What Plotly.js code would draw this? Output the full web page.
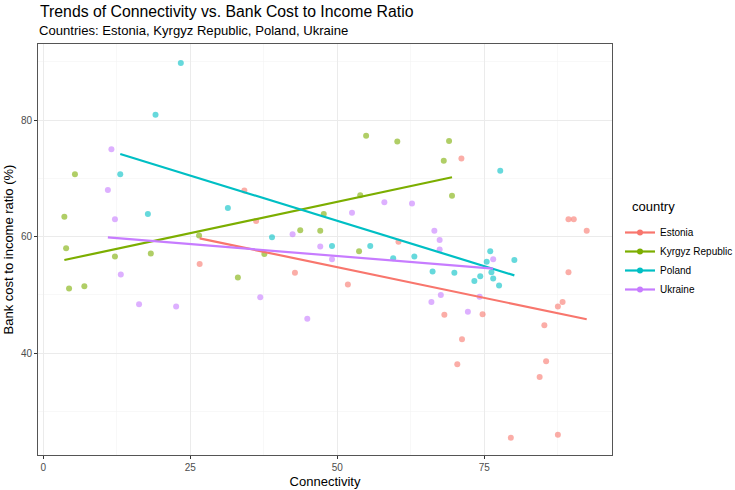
<!DOCTYPE html>
<html><head><meta charset="utf-8">
<script src="https://cdn.plot.ly/plotly-3.0.1.min.js"></script>
<style>body{margin:0;background:#fff}#chart{width:735px;height:490px}</style>
</head><body><div id="chart"></div>
<script>
const countries = ["Estonia", "Kyrgyz Republic", "Poland", "Ukraine"];
const colors = ["#F8766D", "#7CAE00", "#00BFC4", "#C77CFF"];

const estoniaX = [26.6, 34.2, 36.2, 42.8, 51.8, 60.4, 71.1, 89.3, 90.2, 92.4, 89.3, 88.3, 87.5, 68.2, 74.7, 85.2, 71.2, 85.5, 70.4, 84.4, 79.5, 87.5];
const estoniaY = [55.3, 67.9, 62.7, 53.8, 51.8, 59.1, 73.4, 63.0, 63.0, 61.0, 53.9, 48.8, 48.0, 46.6, 46.7, 44.8, 42.4, 38.6, 38.1, 35.9, 25.5, 26.0];

const kyrgyzX = [5.4, 3.6, 26.5, 3.9, 12.2, 18.3, 4.4, 7.0, 54.9, 60.2, 53.9, 47.7, 43.7, 47.1, 53.7, 37.6, 33.1, 69.0, 68.1, 69.5];
const kyrgyzY = [70.7, 63.4, 60.2, 58.0, 56.6, 57.1, 51.1, 51.5, 77.3, 76.3, 67.1, 63.9, 61.1, 61.0, 57.5, 57.0, 53.0, 76.4, 73.0, 67.0];

const polandX = [23.4, 19.1, 13.1, 17.8, 31.4, 38.9, 49.1, 55.6, 59.5, 63.1, 77.7, 76.0, 75.4, 80.1, 66.2, 69.9, 76.2, 74.3, 73.3, 76.5, 77.5];
const polandY = [89.8, 80.9, 70.7, 63.9, 64.9, 59.9, 58.4, 58.4, 56.3, 56.6, 71.3, 57.5, 55.7, 56.0, 54.0, 53.8, 53.9, 53.2, 52.4, 52.8, 51.6];

const ukraineX = [11.6, 11.0, 12.2, 13.2, 16.3, 22.6, 58.0, 62.7, 52.5, 42.4, 47.1, 49.1, 36.9, 44.9, 66.5, 67.4, 67.4, 76.5, 67.6, 66.0, 74.2, 72.2];
const ukraineY = [75.0, 68.0, 63.0, 53.5, 48.4, 48.0, 65.9, 65.7, 64.1, 60.4, 58.3, 56.1, 49.6, 45.9, 61.0, 59.4, 57.8, 56.1, 50.0, 48.8, 49.7, 47.1];

const xs = [estoniaX, kyrgyzX, polandX, ukraineX];
const ys = [estoniaY, kyrgyzY, polandY, ukraineY];

function fit(x, y) {
  const n = x.length;
  const mx = x.reduce((a, b) => a + b, 0) / n;
  const my = y.reduce((a, b) => a + b, 0) / n;
  let sxy = 0, sxx = 0;
  for (let i = 0; i < n; i++) { sxy += (x[i] - mx) * (y[i] - my); sxx += (x[i] - mx) ** 2; }
  const b = sxy / sxx, a = my - b * mx;
  const x0 = Math.min(...x), x1 = Math.max(...x);
  return { x: [x0, x1], y: [a + b * x0, a + b * x1] };
}

const traces = [];
countries.forEach((c, i) => {
  traces.push({
    type: "scatter", mode: "markers", x: xs[i], y: ys[i], name: c, showlegend: false,
    marker: { color: colors[i], size: 6, opacity: 0.6 }, hoverinfo: "x+y"
  });
});
countries.forEach((c, i) => {
  const f = fit(xs[i], ys[i]);
  traces.push({
    type: "scatter", mode: "lines", x: f.x, y: f.y, name: c, showlegend: false,
    line: { color: colors[i], width: 2.2 }
  });
});
countries.forEach((c, i) => {
  traces.push({
    type: "scatter", mode: "lines+markers", x: [null], y: [null], name: c, showlegend: true,
    line: { color: colors[i], width: 2.2 }, marker: { color: colors[i], size: 6 }
  });
});

const font = "Liberation Sans, Arial, Helvetica, sans-serif";
const L = 38, R = 612, T = 44, B = 455;
const pw = R - L, ph = B - T;
const layout = {
  width: 735, height: 490,
  paper_bgcolor: "#fff", plot_bgcolor: "#fff",
  font: { family: font, color: "#000" },
  margin: { l: L, r: 735 - R, t: T, b: 490 - B, autoexpand: false },
  title: {
    text: "Trends of Connectivity vs. Bank Cost to Income Ratio",
    font: { size: 15.8, color: "#000", family: font },
    x: 40 / 735, xanchor: "left", xref: "container",
    y: 1 - 11 / 490, yanchor: "middle", yref: "container"
  },
  annotations: [{
    text: "Countries: Estonia, Kyrgyz Republic, Poland, Ukraine",
    xref: "paper", yref: "paper", x: (37 - L) / pw, y: 1 + (T - 31) / ph,
    xanchor: "left", yanchor: "middle", showarrow: false,
    font: { size: 13.1, color: "#000", family: font }
  }, {
    text: "country",
    xref: "paper", yref: "paper", x: (630 - L) / pw, y: (B - 207) / ph,
    xanchor: "left", yanchor: "middle", showarrow: false,
    font: { size: 13, color: "#000", family: font }
  }],
  xaxis: {
    range: [-0.88, 96.7], tickvals: [0, 25, 50, 75], ticktext: ["0", "25", "50", "75"],
    showgrid: true, gridcolor: "#ebebeb", gridwidth: 1,
    minor: { tickvals: [12.5, 37.5, 62.5, 87.5], showgrid: true, gridcolor: "#f4f4f4", gridwidth: 0.6, ticks: "" },
    zeroline: false, showline: true, mirror: true, linecolor: "#555", linewidth: 1,
    ticks: "outside", ticklen: 3, tickcolor: "#333", tickwidth: 1,
    tickfont: { size: 10, color: "#4d4d4d", family: font },
    title: { text: "Connectivity", font: { size: 13, color: "#000", family: font }, standoff: 4 }
  },
  yaxis: {
    range: [22.54, 93.04], tickvals: [40, 60, 80], ticktext: ["40", "60", "80"],
    showgrid: true, gridcolor: "#ebebeb", gridwidth: 1,
    minor: { tickvals: [30, 50, 70, 90], showgrid: true, gridcolor: "#f4f4f4", gridwidth: 0.6, ticks: "" },
    zeroline: false, showline: true, mirror: true, linecolor: "#555", linewidth: 1,
    ticks: "outside", ticklen: 3, tickcolor: "#333", tickwidth: 1,
    tickfont: { size: 10, color: "#4d4d4d", family: font },
    title: { text: "Bank cost to income ratio (%)", font: { size: 13, color: "#000", family: font }, standoff: 4 }
  },
  legend: {
    x: (620 - R) / pw + 1, xanchor: "left", y: (B - 218) / ph, yanchor: "top",
    font: { size: 10, color: "#000", family: font },
    bgcolor: "rgba(0,0,0,0)", tracegroupgap: 0
  },
  showlegend: true
};

Plotly.newPlot("chart", traces, layout, { displayModeBar: false, staticPlot: true });
</script></body></html>
